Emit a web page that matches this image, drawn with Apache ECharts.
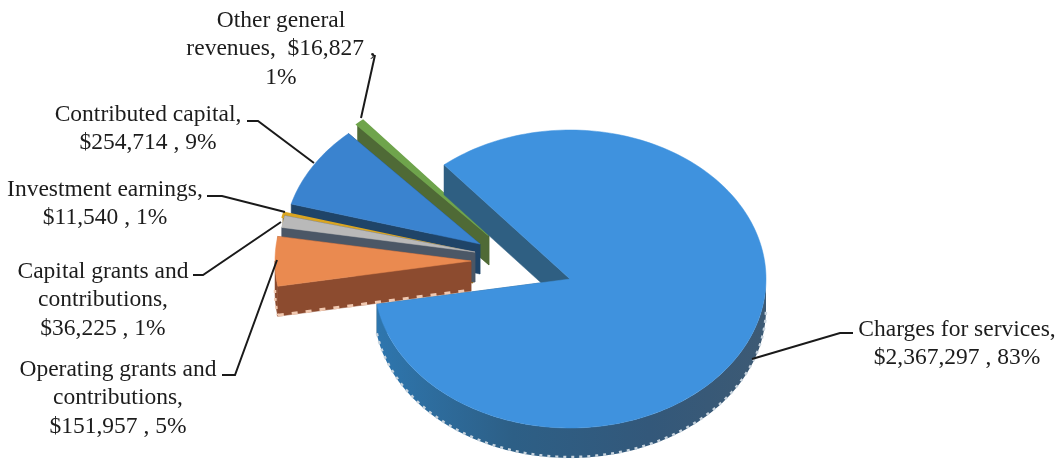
<!DOCTYPE html>
<html><head><meta charset="utf-8">
<style>html,body{margin:0;padding:0;background:#fff}#c{width:1062px;height:462px}</style>
<script src="https://cdn.jsdelivr.net/npm/echarts@6/dist/echarts.min.js"></script>
</head><body><div id="c"></div>
<script>
// --- data ---
const categories = ['Other general revenues','Contributed capital','Investment earnings','Capital grants and contributions','Operating grants and contributions','Charges for services'];
const values = [16827,254714,11540,36225,151957,2367297];
const percents = ['1%','9%','1%','1%','5%','83%'];

// --- styling ---
const topColors  = ['#6fa44c','#3a83cf','#d9a521','#b9b9b9','#ea8a50','#3f92de'];
const wallColors = ['#4f6a36','#1f4468','#8a6a20','#4b5766','#8c4b2f','#2f5f82'];
const tickColors = ['#cfd8c4','#c5cfd8','#e0d8b0','#d0d0d0','#f0c8b0','#c8d4de'];
const topStroke  = [2.5,0.5,2.5,0.5,0.5,0.5];
const explode = [[-81,-44],[-90,-35],[-97,-26],[-95,-27],[-99,-18],[0,0]];
const pie = {cx:570, cy:279, rx:196, ry:149, depth:30, startAngle:130};
const total = values.reduce((a,b)=>a+b,0);

function pt(o,a,dy){const r=a*Math.PI/180;return [o[0]+pie.rx*Math.cos(r),o[1]-pie.ry*Math.sin(r)+(dy||0)];}
function arc(o,a0,a1,dy){const n=Math.max(2,Math.ceil(Math.abs(a1-a0)/1.5)),p=[];for(let i=0;i<=n;i++)p.push(pt(o,a0+(a1-a0)*i/n,dy));return p;}

function renderItem(params, api){
  const i=params.dataIndex;
  let cum=0; for(let k=0;k<i;k++) cum+=api.value(0,k);
  const a0=pie.startAngle+cum/total*360, a1=a0+api.value(0)/total*360;
  const o=[pie.cx+explode[i][0],pie.cy+explode[i][1]], d=pie.depth, ch=[];
  const st={fill:wallColors[i],stroke:wallColors[i],lineWidth:.5};
  const wallStyle = i===5 ? Object.assign({},st,{fill:new echarts.graphic.LinearGradient(0,0,1,0,[
     {offset:0,color:'#2e76ae'},{offset:.35,color:'#2d5f86'},{offset:.7,color:'#33587a'},{offset:1,color:'#3d5a74'}]),stroke:null,lineWidth:0}) : st;
  const quad=(a)=>{const p=pt(o,a);ch.push({type:'polygon',shape:{points:[o,p,[p[0],p[1]+d],[o[0],o[1]+d]]},style:st});};
  quad(a0); quad(a1);
  // Outer wall, only where it faces the viewer (lower half of the ellipse)
  for (const [lo,hi] of [[180,360],[540,720]]) {
    const s=Math.max(a0,lo), e=Math.min(a1,hi);
    if(e>s){
      const top=arc(o,s,e,0), bot=arc(o,s,e,d);
      ch.push({type:'polygon',shape:{points:top.concat(bot.reverse())},style:wallStyle});
      ch.push({type:'polyline',shape:{points:arc(o,s,e,d-1)},style:{fill:null,stroke:tickColors[i],lineWidth:2.5,lineDash:[3,5]}});
    }
  }
  if(i===4){ // straight lower edge of the cut face
    ch.push({type:'polyline',shape:{points:[[pt(o,a1)[0],pt(o,a1)[1]+d-1],[o[0],o[1]+d-1]]},style:{fill:null,stroke:tickColors[i],lineWidth:3,lineDash:[6,8]}});
  }
  ch.push({type:'polygon',shape:{points:[o].concat(arc(o,a0,a1,0))},style:{fill:topColors[i],stroke:topColors[i],lineWidth:topStroke[i]}});
  return {type:'group',children:ch};
}

// --- labels ---
const F='"Liberation Serif","Times New Roman",serif';
const labelLines=[
 ['Other general','revenues,  $16,827 ,',percents[0]],
 ['Contributed capital,','$254,714 , '+percents[1]],
 ['Investment earnings,','$11,540 , '+percents[2]],
 ['Capital grants and','contributions,','$36,225 , '+percents[3]],
 ['Operating grants and','contributions,','$151,957 , '+percents[4]],
 ['Charges for services,','$2,367,297 , '+percents[5]]
];
const labelAnchors=[[281,6],[148,100],[105,175],[103,257],[118,355],[957,315]];
const leaders=[
 [[375,55],[361,118]],
 [[247,121],[258,121],[314,163]],
 [[207,196],[222,196],[285,212]],
 [[193,275],[203,275],[281,222]],
 [[222,375],[235,375],[277,260]],
 [[752,359],[840,333],[853,333]]
];
const graphic=[];
labelLines.forEach((l,i)=>{
  graphic.push({type:'text',x:labelAnchors[i][0],y:labelAnchors[i][1],z:10,silent:true,
    style:{text:l.join('\n'),font:'23.5px '+F,fill:'#1c1c1c',align:'center',verticalAlign:'top',lineHeight:28.7}});
  graphic.push({type:'polyline',z:9,silent:true,shape:{points:leaders[i]},style:{fill:null,stroke:'#1a1a1a',lineWidth:2}});
});

const chart=echarts.init(document.getElementById('c'),null,{renderer:'canvas'});
chart.setOption({
  animation:false,backgroundColor:'#fff',
  series:[{type:'custom',coordinateSystem:'none',renderItem:renderItem,silent:true,
    data:values.map((v,i)=>({name:categories[i],value:[v]})),encode:{value:0}}],
  graphic:graphic
});
</script></body></html>
